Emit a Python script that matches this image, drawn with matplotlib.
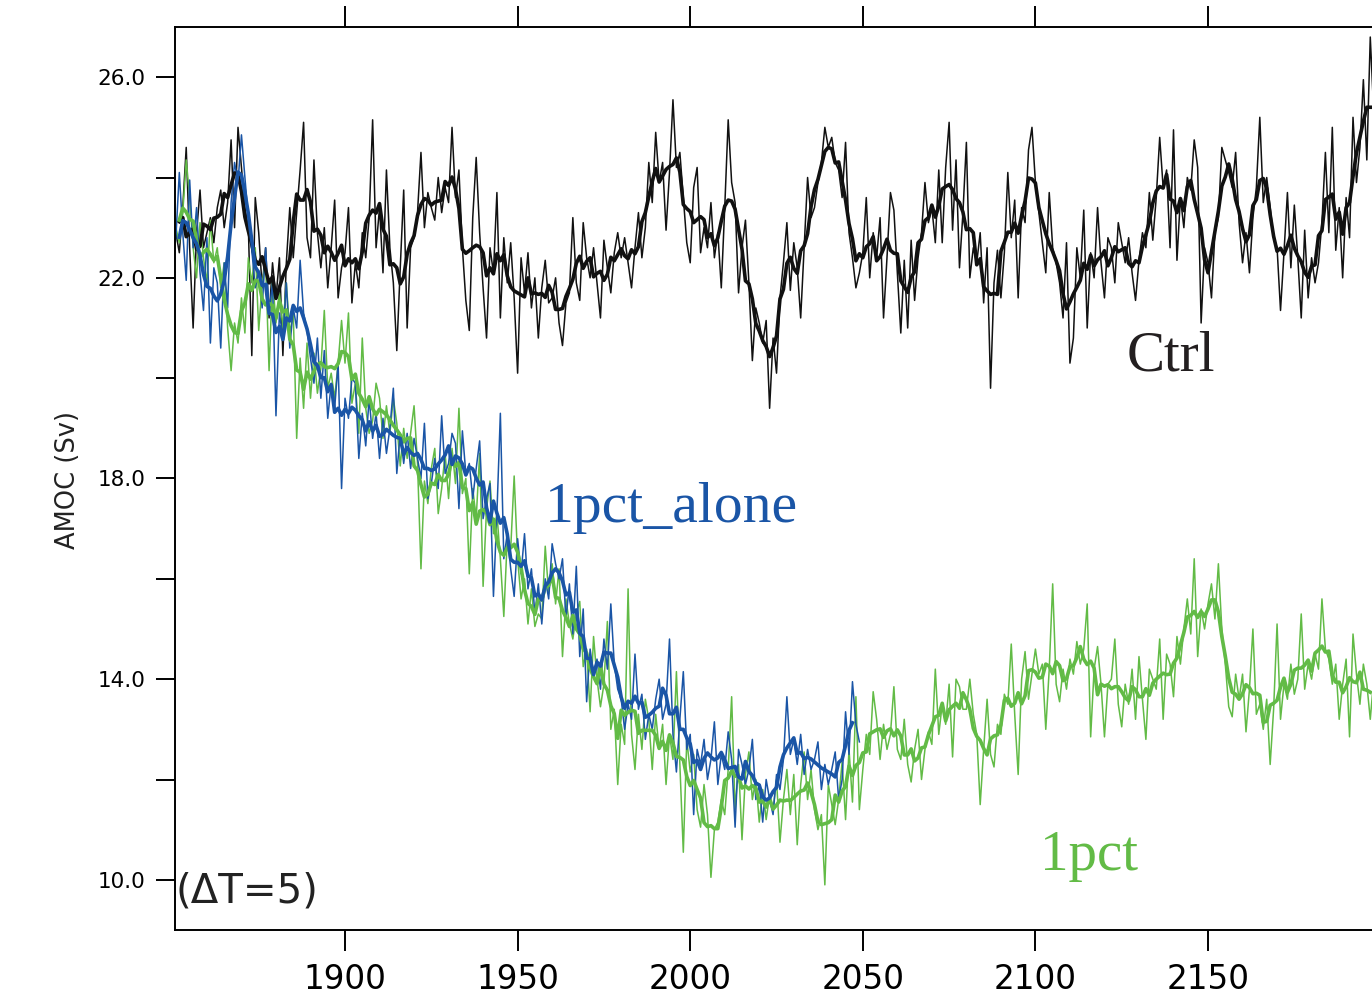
import numpy as np
import pandas as pd
import matplotlib
matplotlib.use("Agg")
import matplotlib.pyplot as plt

# annual AMOC (Sv)
ctrl_start = 1850
ctrl = [
    22.2, 22.9, 22.5, 23.4, 24.6, 22.6, 21.0, 22.9, 23.75, 22.6,
    22.9, 23.2, 22.7, 23.4, 23.75, 23.0, 23.5, 24.75, 23.0, 25.0,
    24.2, 23.4, 23.0, 20.45, 23.6, 22.9, 21.8, 22.6, 21.2, 22.3,
    21.6, 22.4, 20.45, 22.3, 23.4, 22.4, 23.3, 24.15, 25.1, 22.8,
    22.4, 24.35, 22.9, 22.2, 23.0, 21.8, 22.6, 23.55, 21.6, 22.2,
    22.5, 23.4, 21.5, 22.3, 21.8, 22.9, 22.4, 23.2, 25.15, 22.6,
    23.4, 22.1, 24.15, 22.6, 21.9, 20.55, 22.2, 23.75, 21.0, 22.6,
    22.8, 23.3, 24.5, 23.0, 23.7, 23.4, 23.15, 24.0, 23.3, 23.8,
    23.5, 25.0, 23.6, 24.15, 22.6, 21.55, 20.95, 23.2, 24.4, 22.9,
    21.8, 20.8, 22.6, 22.1, 23.7, 21.2, 22.8, 21.9, 22.7, 21.6,
    20.1, 22.4, 21.7, 22.5, 21.4, 22.0, 20.8, 21.8, 22.35, 21.5,
    21.6, 22.0, 21.1, 20.65, 21.5, 21.7, 23.2, 21.9, 21.55, 23.1,
    22.4, 22.0, 22.6, 21.9, 21.2, 22.75, 22.2, 21.7, 22.5, 22.9,
    22.4, 22.8, 22.3, 21.8, 22.6, 23.3, 22.4, 23.0, 24.3, 23.5,
    24.9, 23.9, 24.3, 22.95, 24.1, 25.55, 24.2, 24.5, 23.6, 22.7,
    22.3, 23.8, 24.2, 22.5, 23.0, 22.6, 23.5, 22.4, 22.9, 21.8,
    23.4, 25.15, 23.9, 23.5, 21.7, 22.6, 23.15, 21.9, 20.35, 21.4,
    21.1, 20.7, 21.15, 19.4, 20.8, 20.1, 21.6, 22.3, 23.1, 21.75,
    22.7, 22.2, 21.2, 22.6, 24.0, 23.2, 23.4, 23.9, 24.3, 25.0,
    24.6, 24.8, 24.3, 24.15, 23.6, 24.7, 22.9, 22.4, 21.8, 22.1,
    22.5, 23.6, 22.0, 22.9, 22.4, 23.2, 21.2, 22.4, 23.7, 23.35,
    22.1, 20.9, 22.35, 21.0, 22.75, 21.55, 22.4, 22.9, 23.9, 23.1,
    23.4, 22.7, 24.15, 22.7, 24.2, 25.1, 22.95, 24.35, 22.2, 23.3,
    24.7, 22.0, 22.6, 22.3, 22.9, 21.5, 22.6, 19.8, 21.9, 22.55,
    21.6, 22.5, 24.1, 22.8, 23.55, 21.6, 23.4, 23.1, 24.55, 25.0,
    23.9, 23.3, 22.7, 22.1, 23.7, 22.6, 22.3, 21.9, 21.2, 22.7,
    20.3, 20.8, 22.6, 22.0, 23.35, 21.0, 22.5, 22.0, 23.4, 22.3,
    21.6, 22.8, 22.6, 21.9, 23.1, 22.7, 22.3, 22.8, 22.1, 21.55,
    22.35, 22.9, 22.6, 23.7, 22.75, 23.6, 24.8, 23.8, 24.15, 22.6,
    24.95, 22.35, 23.6, 23.0, 24.0, 23.75, 24.75, 24.2, 21.1, 22.6,
    22.3, 21.6, 22.9, 23.2, 24.6, 24.35, 24.1, 23.8, 24.5, 23.1,
    22.3, 22.9, 22.1, 23.2, 23.8, 25.2, 23.5, 24.0, 23.4, 22.8,
    22.6, 21.35, 22.5, 23.7, 22.2, 23.45, 22.4, 21.2, 22.95, 21.6,
    22.4, 21.9, 22.3, 23.1, 24.5, 22.9, 25.0, 22.55, 23.4, 22.0,
    23.6, 22.8, 25.2, 23.9, 24.6, 25.95, 24.35, 26.8, 25.3, 24.6,
]

onepct_start = 1850
onepct = [
    22.4, 23.0, 22.7, 23.3, 24.35, 23.6, 22.6, 22.0, 23.1, 22.4,
    21.9, 23.15, 22.3, 22.6, 21.8, 22.3, 21.0, 20.15, 21.1, 20.7,
    21.6, 20.9, 22.4, 21.9, 22.6, 20.95, 21.9, 22.3, 20.15, 22.0,
    21.1, 21.7, 21.0, 21.9, 20.9, 21.3, 18.8, 20.4, 19.4, 20.7,
    19.6, 20.5, 19.7, 20.2, 21.35, 19.8, 20.1, 19.6, 20.3, 21.15,
    20.3, 21.3, 19.5, 19.9, 18.9, 20.8, 19.4, 18.9, 19.15, 19.9,
    19.6, 18.8, 19.45, 18.9, 19.6, 19.1, 18.25, 19.0, 18.4, 18.9,
    19.45, 18.3, 16.2, 17.95, 17.5, 18.2, 18.6, 17.3, 17.8, 18.5,
    17.6, 18.6, 17.9, 19.4, 17.7, 18.0, 16.1, 17.8, 17.2, 18.5,
    15.85, 17.4, 17.95, 16.9, 17.3, 16.4, 15.25, 16.8, 16.6, 18.05,
    16.4, 15.6, 16.0, 15.1, 15.8, 15.05, 15.3, 15.2, 16.65, 15.7,
    16.3, 15.5, 16.2, 14.45, 15.6, 15.1, 14.8, 15.3, 15.55, 14.25,
    14.6, 13.35, 14.85, 14.0, 13.45, 13.9, 15.15, 13.0, 13.4, 11.9,
    13.1, 12.7, 15.8, 12.9, 12.2, 13.3, 12.6, 13.6, 13.2, 12.2,
    13.3, 12.6, 13.1, 11.9, 12.9, 12.4, 14.15, 12.3, 10.55, 12.8,
    12.15, 12.5, 11.4, 11.05, 11.9, 11.3, 10.05, 11.0, 11.15, 11.6,
    11.3, 12.2, 13.65, 11.4, 12.3, 10.8, 12.1, 12.55, 11.6, 12.0,
    11.15, 11.8, 11.2, 11.7, 11.4, 12.0, 10.75, 11.6, 12.2, 11.3,
    12.1, 10.7, 11.9, 12.55, 11.6, 12.2, 11.4, 11.0, 11.3, 9.9,
    11.9, 11.5, 11.1, 11.6, 12.35, 11.2, 12.6, 11.55, 13.65, 11.4,
    12.2, 12.9, 12.5, 13.75, 13.2, 12.4, 13.1, 12.6, 12.9, 13.85,
    12.6, 12.4, 13.2, 12.3, 11.95, 12.6, 13.0, 12.0, 12.6, 12.95,
    12.7, 14.2, 12.9, 13.5, 13.1, 13.9, 12.45, 14.0, 13.85, 13.4,
    13.4, 14.0, 13.3, 12.9, 11.5, 12.6, 13.6, 12.5, 12.25, 13.1,
    12.9, 13.7, 13.5, 14.7, 13.3, 12.1, 14.0, 14.55, 13.6, 14.1,
    14.6, 14.1, 14.3, 13.0, 14.2, 15.9, 13.9, 13.55, 14.2, 13.8,
    14.4, 14.1, 14.75, 14.3, 14.6, 15.5, 12.85, 14.2, 14.65, 13.9,
    12.85, 13.9, 14.0, 14.8, 13.5, 13.05, 13.9, 13.5, 14.2, 13.2,
    14.45, 13.6, 12.8, 14.2, 14.0, 13.8, 14.8, 13.2, 14.5, 14.3,
    13.65, 14.85, 14.3, 15.0, 15.6, 14.9, 16.4, 14.45, 15.4, 15.0,
    15.5, 15.9, 15.2, 16.3, 15.0, 14.3, 13.45, 13.25, 14.1, 13.6,
    14.1, 12.95, 13.8, 15.0, 13.3, 13.5, 13.0, 13.6, 12.3, 13.4,
    15.1, 13.2, 13.9, 13.6, 14.3, 13.7, 14.0, 15.3, 13.8, 14.3,
    14.0, 14.5, 14.2, 15.6, 14.6, 14.4, 13.9, 14.3, 13.2, 13.9,
    14.4, 12.85, 14.9, 14.1, 13.5, 14.3, 13.9, 13.2, 14.0, 13.3,
]

alone_start = 1850
alone = [
    22.3, 22.8, 24.1, 22.9, 21.95, 23.95, 22.6, 23.4, 22.1, 21.35,
    22.8, 20.7, 22.2, 21.9, 20.6, 22.3, 21.4, 23.5, 24.3, 23.9,
    24.85, 24.0, 23.2, 22.55, 21.8, 22.15, 21.4, 22.6, 21.3, 21.9,
    19.25, 21.3, 20.8, 21.9, 20.6, 21.4, 21.0, 22.35, 21.3, 20.95,
    20.4, 19.9, 20.8, 19.6, 20.55, 19.2, 19.9, 19.4, 20.3, 17.8,
    19.6, 19.2, 20.0, 19.9, 18.4, 19.3, 18.65, 19.6, 18.8, 19.3,
    18.4, 19.2, 18.5, 19.0, 19.8, 18.1, 18.9, 18.3, 18.9, 18.2,
    18.8, 18.4, 18.0, 19.1, 17.6, 17.9, 18.4, 17.8, 19.25, 18.1,
    18.3, 18.9, 18.7, 17.4, 18.95, 18.1, 18.3, 17.6, 18.2, 18.75,
    17.2, 17.6, 17.9, 15.65, 17.3, 19.3, 16.4, 16.9, 16.2, 15.65,
    16.8, 16.1, 16.9, 15.8, 16.2, 15.3, 15.9, 15.1, 16.0, 15.6,
    16.7, 16.3, 16.0, 16.4, 15.2, 15.9, 14.9, 16.25, 14.45, 15.4,
    13.55, 14.6, 14.1, 14.4, 13.8, 14.8, 14.2, 15.5, 14.3, 13.8,
    13.6, 13.0, 13.5, 13.2, 14.5, 13.4, 13.7, 12.8, 13.3, 13.0,
    13.6, 14.0, 13.2, 13.5, 14.8, 12.9, 12.15, 13.2, 14.15, 12.6,
    12.9, 11.3, 12.6, 12.3, 12.8, 12.0, 12.4, 13.15, 11.9, 12.5,
    12.2, 12.95, 12.4, 11.05, 12.6, 12.3, 11.9, 12.2, 12.8, 11.6,
    11.9, 11.15, 12.0, 11.6, 11.3, 12.1, 11.8, 12.4, 13.65, 12.5,
    12.8, 12.3, 12.9, 12.1, 12.6, 12.2, 12.4, 12.75, 11.8, 12.3,
    11.9, 12.2, 12.55, 11.6, 12.0, 13.35, 12.5, 13.95, 13.1, 12.75,
]

window = 5  # running mean, "(ΔT=5)"

series = [
    ("Ctrl", ctrl_start, ctrl, "#111111"),
    ("1pct", onepct_start, onepct, "#62bb46"),
    ("1pct_alone", alone_start, alone, "#1a55a6"),
]

fig = plt.figure(figsize=(13.72, 10), dpi=100)
ax = fig.add_axes([175 / 1372, 0.07, 1 - 175 / 1372, 0.903])

for name, start, vals, col in series:
    yrs = np.arange(start, start + len(vals))
    s = pd.Series(vals, index=yrs)
    ax.plot(yrs, s.values, color=col, lw=1.1, zorder=2)
    ax.plot(yrs, s.rolling(window, center=True).mean().values,
            color=col, lw=2.6, zorder=3)

ax.set_xlim(1850.75, 2197.5)
ax.set_ylim(9, 27)

ax.set_xticks([1900, 1950, 2000, 2050, 2100, 2150])
ax.set_yticks([10, 14, 18, 22, 26])
ax.set_yticks([12, 16, 20, 24], minor=True)
ax.set_yticklabels(["10.0", "14.0", "18.0", "22.0", "26.0"])

ax.tick_params(axis="x", which="both", direction="out", length=15, width=1.4,
               top=True, labeltop=False, labelsize=23.5, pad=9)
ax.tick_params(axis="y", which="both", direction="out", length=14, width=1.4,
               right=False, labelsize=15.5, pad=7)
for sp in ["left", "bottom", "top"]:
    ax.spines[sp].set_linewidth(1.4)
ax.spines["right"].set_visible(False)

fig.text(68 / 1372, 1 - 480 / 1000, "AMOC (Sv)", rotation=90,
         ha="center", va="center", fontsize=18.5, color="#222222")

ax.text(2126.5, 20.16, "Ctrl", family="Liberation Serif", fontsize=41,
        color="#231f20", va="baseline")
ax.text(1957.9, 17.14, "1pct_alone", family="Liberation Serif", fontsize=41.5,
        color="#1a55a6", va="baseline")
ax.text(2101.3, 10.2, "1pct", family="Liberation Serif", fontsize=41,
        color="#62bb46", va="baseline")
ax.text(1850.9, 9.77, "(ΔT=5)", fontsize=29, color="#222222",
        ha="left", va="center")

fig.savefig("out.png", dpi=100)
